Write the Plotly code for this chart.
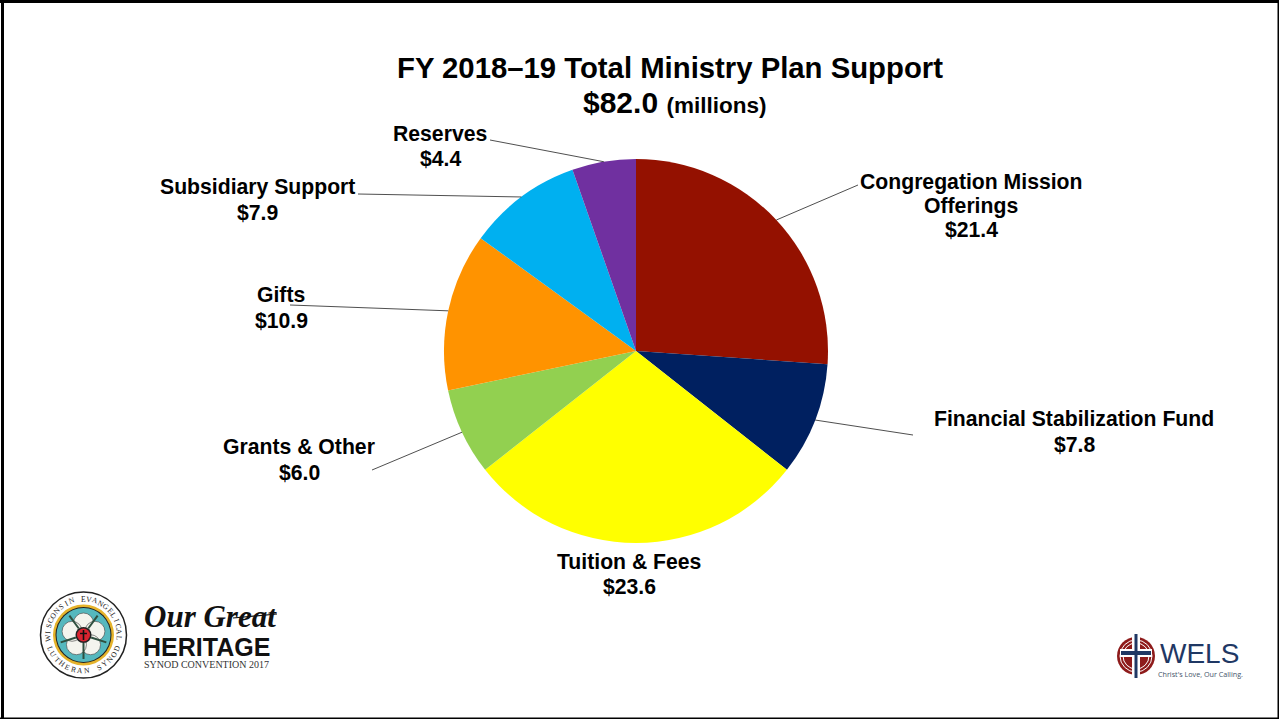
import math
import plotly.graph_objects as go

W, H = 1279, 719

categories = ["Congregation Mission<br>Offerings", "Financial Stabilization Fund", "Tuition & Fees",
              "Grants & Other", "Gifts", "Subsidiary Support", "Reserves"]
values = [21.4, 7.8, 23.6, 6.0, 10.9, 7.9, 4.4]
colors = ["#941100", "#002060", "#FFFF00", "#92D050", "#FF9300", "#00B0F0", "#7030A0"]
label_xy = [(971, 182), (1074, 418), (629, 561), (299, 446), (281, 294), (257, 187), (440, 133)]
label_gap = [24, 26, 25, 26, 26, 25, 25]
leader_end = [(858, 185), (913, 435), None, (372, 470), (290, 305), (358, 194), (490, 140)]

CX, CY, R = 636, 351, 192
FONT = "Liberation Sans"


def px(x):
    return x / W


def py(y):
    return 1 - y / H


shapes, annotations = [], []


def text(x, y, s, size, color="black", font=FONT, angle=0, xanchor="center"):
    annotations.append(dict(x=px(x), y=py(y), xref="paper", yref="paper", text=s, showarrow=False,
                            font=dict(family=font, size=size, color=color), textangle=angle,
                            xanchor=xanchor, yanchor="middle", align="center"))


def line(x0, y0, x1, y1, color="black", width=1):
    shapes.append(dict(type="line", xref="paper", yref="paper", x0=px(x0), y0=py(y0), x1=px(x1), y1=py(y1),
                       line=dict(color=color, width=width)))


def circle(cx, cy, r, fill="rgba(0,0,0,0)", edge=None, width=0):
    shapes.append(dict(type="circle", xref="paper", yref="paper", x0=px(cx - r), x1=px(cx + r),
                       y0=py(cy + r), y1=py(cy - r), fillcolor=fill,
                       line=dict(color=edge or "rgba(0,0,0,0)", width=width)))


def rect(x0, y0, x1, y1, fill):
    shapes.append(dict(type="rect", xref="paper", yref="paper", x0=px(x0), x1=px(x1), y0=py(y1), y1=py(y0),
                       fillcolor=fill, line=dict(width=0)))


# page frame: heavier on the top and left, thin on the right and bottom
rect(0, 0, W, 3, "black")
rect(1, 0, 4, H, "black")
rect(W - 1.5, 0, W, H, "black")
rect(0, H - 1.5, W, H, "black")

# leader lines, starting from each slice's mid angle
total = sum(values)
cum = 0
for v, end in zip(values, leader_end):
    mid = (cum + v / 2) / total * 2 * math.pi
    cum += v
    if end:
        line(CX + R * math.sin(mid), CY - R * math.cos(mid), end[0], end[1], "#222222", 0.8)

# data labels, one text per line so the line gap can follow the reference
for cat, v, (x, y), gap in zip(categories, values, label_xy, label_gap):
    rows = cat.split("<br>") + [f"${v:.1f}"]
    for i, row in enumerate(rows):
        text(x, y + i * gap, f"<b>{row}</b>", 21.2)

# title
text(670, 67.5, "<b>FY 2018–19 Total Ministry Plan Support</b>", 29.3)
text(674.5, 103, "<b>$82.0</b> <b><span style='font-size:22.5px'>(millions)</span></b>", 30)

# seal (left logo)
SX, SY = 83.5, 635
circle(SX, SY, 43, "white", "#222222", 1.5)
circle(SX, SY, 30.5, "#E5B32B")
circle(SX, SY, 28, "#222222")
circle(SX, SY, 27, "#55B8BE")
for a in range(0, 360, 72):
    circle(SX + 12 * math.sin(math.radians(a)), SY - 12 * math.cos(math.radians(a)), 10, "#F4F4EE", "#555555", 0.7)
for a in range(36, 360, 72):
    line(SX + 8 * math.sin(math.radians(a)), SY - 8 * math.cos(math.radians(a)),
         SX + 24 * math.sin(math.radians(a)), SY - 24 * math.cos(math.radians(a)), "#2F4F3F", 2)
circle(SX, SY, 8, "#222222")
circle(SX, SY, 6.5, "#D8232F")
rect(SX - 0.8, SY - 5, SX + 0.8, SY + 5, "#111111")
rect(SX - 3.5, SY - 2.2, SX + 3.5, SY - 0.8, "#111111")


def arc_text(s, r, start, stop, size, flip=False):
    n = len(s)
    for i, ch in enumerate(s):
        if ch == " ":
            continue
        a = start + (stop - start) * i / (n - 1)
        rad = math.radians(a)
        x, y = SX + r * math.sin(rad), SY - r * math.cos(rad)
        text(x, y, ch, size, "#222222", "Liberation Serif", angle=(a + 180 if flip else a))


arc_text("WISCONSIN EVANGELICAL", 36, -95, 95, 7.6)
arc_text("LUTHERAN SYNOD", 36, 248, 112, 7.6, flip=True)

# convention wordmark
text(210, 616, "<b><i>Our Great</i></b>", 31, "#111111", "Liberation Serif")
line(233, 618, 277, 614, "#111111", 1.2)
text(206, 647, "<b>HERITAGE</b>", 25, "#111111", "Liberation Sans")
text(206, 664, "SYNOD CONVENTION 2017", 10, "#333333", "Liberation Serif")

# denomination logo (right)
LX, LY = 1136, 656
circle(LX, LY, 19, "#8E1B1B")
circle(LX, LY, 16, "rgba(0,0,0,0)", "white", 1)
circle(LX, LY, 13, "rgba(0,0,0,0)", "white", 1)
rect(LX - 4, LY - 22, LX + 4, LY + 22, "white")
rect(LX - 16, LY - 7, LX + 16, LY + 1, "white")
rect(LX - 1.5, LY - 22, LX + 1.5, LY + 22, "#1F3864")
rect(LX - 15, LY - 5, LX + 15, LY - 1, "#1F3864")
text(1199, 653, "WELS", 28, "#1F3864", "Liberation Sans")
text(1200, 674, "Christ's Love, Our Calling.", 7.2, "#44546A", "Open Sans")

pie = go.Pie(values=values, labels=[c.replace("<br>", " ") for c in categories], sort=False, direction="clockwise",
             rotation=0, textinfo="none", hoverinfo="label+value", showlegend=False,
             marker=dict(colors=colors, line=dict(width=0)),
             domain=dict(x=[px(CX - R), px(CX + R)], y=[py(CY + R), py(CY - R)]))

fig = go.Figure(pie)
fig.update_layout(width=W, height=H, autosize=False, margin=dict(l=0, r=0, t=0, b=0),
                  paper_bgcolor="white", shapes=shapes, annotations=annotations)
fig.write_html("out.html", config={"displayModeBar": False},
               post_script="document.body.style.margin='0';document.documentElement.style.overflow='hidden';")
